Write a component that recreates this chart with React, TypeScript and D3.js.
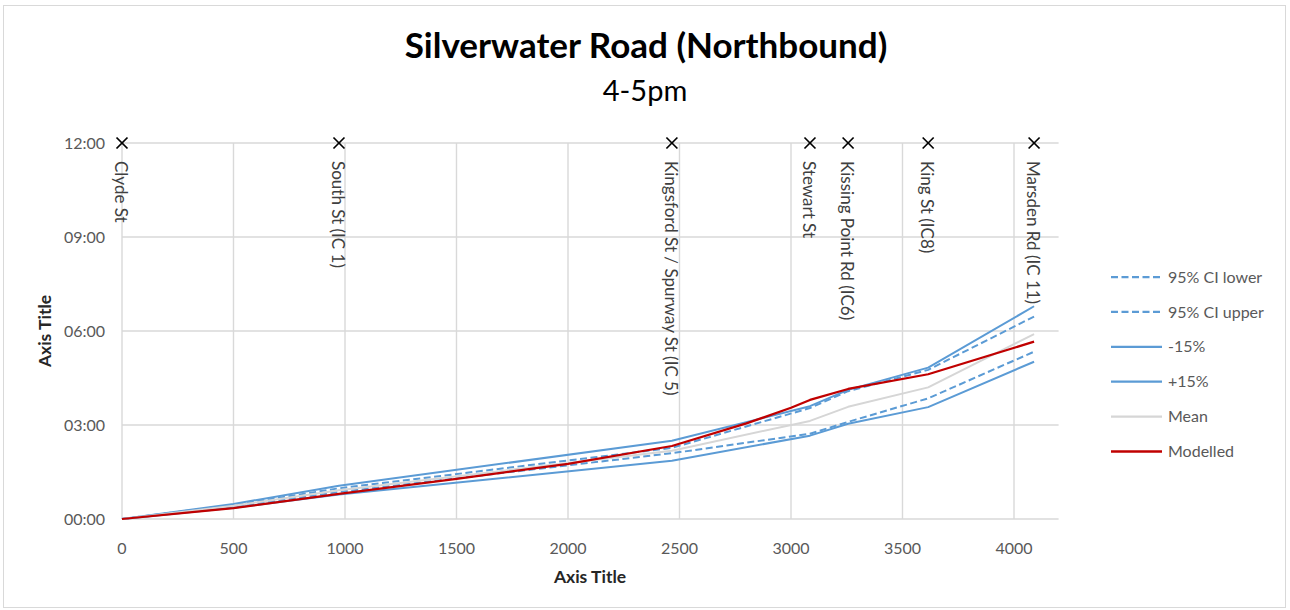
import React from 'react';
import * as d3 from 'd3';

const xTicks = [0, 500, 1000, 1500, 2000, 2500, 3000, 3500, 4000];
const yTicks = [0, 3, 6, 9, 12];

const stopNames = ['Clyde St', 'South St (IC 1)', 'Kingsford St / Spurway St (IC 5)', 'Stewart St', 'Kissing Point Rd (IC6)', 'King St (IC8)', 'Marsden Rd (IC 11)'];
const stopDist = [0, 973, 2466, 3085, 3256, 3615, 4090];
const stopTime = [12, 12, 12, 12, 12, 12, 12];

const dist = [0, 500, 973, 2466, 3085, 3256, 3615, 4090];
const ciLower = [0, 0.39, 0.86, 2.1, 2.72, 3.1, 3.85, 5.34];
const ciUpper = [0, 0.45, 0.98, 2.27, 3.54, 4.08, 4.76, 6.46];
const minus15 = [0, 0.36, 0.78, 1.86, 2.66, 3.04, 3.57, 5.02];
const plus15 = [0, 0.48, 1.06, 2.5, 3.6, 4.12, 4.83, 6.79];
const meanTime = [0, 0.42, 0.92, 2.18, 3.13, 3.58, 4.2, 5.9];

const modelDist = [0, 500, 973, 1500, 2000, 2466, 2800, 3000, 3085, 3256, 3615, 4090];
const modelled = [0, 0.35, 0.8, 1.28, 1.76, 2.33, 3.05, 3.55, 3.8, 4.15, 4.62, 5.66];

const BLUE = '#5B9BD5';
const RED = '#C00000';
const GREY = '#D6D6D6';
const FONT = 'Lato, "Open Sans", sans-serif';

const seriesDefs = [
  { name: '95% CI lower', x: dist, y: ciLower, color: BLUE, dash: '7,3.5', w: 2 },
  { name: '95% CI upper', x: dist, y: ciUpper, color: BLUE, dash: '7,3.5', w: 2 },
  { name: '-15%', x: dist, y: minus15, color: BLUE, dash: null, w: 2 },
  { name: '+15%', x: dist, y: plus15, color: BLUE, dash: null, w: 2 },
  { name: 'Mean', x: dist, y: meanTime, color: GREY, dash: null, w: 2 },
  { name: 'Modelled', x: modelDist, y: modelled, color: RED, dash: null, w: 2.25 },
];

const fmt = (m: number) => {
  const mm = Math.floor(m);
  const ss = Math.round((m - mm) * 60);
  return `${String(mm).padStart(2, '0')}:${String(ss).padStart(2, '0')}`;
};

export default function App() {
  const W = 1290, H = 610;
  const left = 122, right = 1058.6, top = 143, bottom = 519;
  const x = d3.scaleLinear().domain([0, 4200]).range([left, right]);
  const y = d3.scaleLinear().domain([0, 12]).range([bottom, top]);

  return (
    <svg width={W} height={H} style={{ position: 'absolute', left: 0, top: 0, background: '#fff' }} fontFamily={FONT}>
      <rect x={3.5} y={5.5} width={1282} height={602} fill="#fff" stroke="#D9D9D9" strokeWidth={1} />
      <text x={646} y={58} textAnchor="middle" fontSize={35} fontWeight="bold" fill="#000">Silverwater Road (Northbound)</text>
      <text x={645} y={101} textAnchor="middle" fontSize={29} fill="#000">4-5pm</text>

      {/* gridlines */}
      {yTicks.map((t) => (
        <line key={'gy' + t} x1={left} x2={right} y1={y(t)} y2={y(t)} stroke="#D9D9D9" strokeWidth={1.4} />
      ))}
      {xTicks.map((t) => (
        <line key={'gx' + t} x1={x(t)} x2={x(t)} y1={top} y2={bottom} stroke="#D9D9D9" strokeWidth={1.4} />
      ))}

      {/* tick labels */}
      {yTicks.map((t) => (
        <text key={'ty' + t} x={105} y={y(t)} dy="0.35em" textAnchor="end" fontSize={16} fill="#595959">{fmt(t)}</text>
      ))}
      {xTicks.map((t) => (
        <text key={'tx' + t} x={x(t)} y={548} dy="0.35em" textAnchor="middle" fontSize={16} fill="#595959">{t}</text>
      ))}

      {/* axis titles */}
      <text x={590} y={583} textAnchor="middle" fontSize={17.5} fontWeight="bold" fill="#262626">Axis Title</text>
      <text transform={`translate(51,${(top + bottom) / 2}) rotate(-90)`} textAnchor="middle" fontSize={17.5} fontWeight="bold" fill="#262626">Axis Title</text>

      {/* series */}
      {seriesDefs.map((s) => {
        const pts: [number, number][] = s.x.map((d, i) => [x(d), y(s.y[i])]);
        const path = d3.line()(pts) || '';
        return (
          <path key={s.name} d={path} fill="none" stroke={s.color} strokeWidth={s.w} strokeDasharray={s.dash || undefined} strokeLinejoin="round" />
        );
      })}

      {/* stop markers and labels */}
      {stopNames.map((n, i) => {
        const cx = x(stopDist[i]);
        const cy = y(stopTime[i]);
        const r = 5.5;
        return (
          <g key={n}>
            <line x1={cx - r} y1={cy - r} x2={cx + r} y2={cy + r} stroke="#000" strokeWidth={1.7} />
            <line x1={cx - r} y1={cy + r} x2={cx + r} y2={cy - r} stroke="#000" strokeWidth={1.7} />
            <text transform={`translate(${cx - 1},${161}) rotate(90)`} dy="0.35em" fontSize={17} fill="#404040">{n}</text>
          </g>
        );
      })}

      {/* legend */}
      {seriesDefs.map((s, i) => {
        const ly = 277 + i * 34.9;
        return (
          <g key={'lg' + s.name}>
            <line x1={1111} x2={1162} y1={ly} y2={ly} stroke={s.color} strokeWidth={s.w + 0.25} strokeDasharray={s.dash || undefined} />
            <text x={1168} y={ly} dy="0.35em" fontSize={16} fill="#595959">{s.name}</text>
          </g>
        );
      })}
    </svg>
  );
}
